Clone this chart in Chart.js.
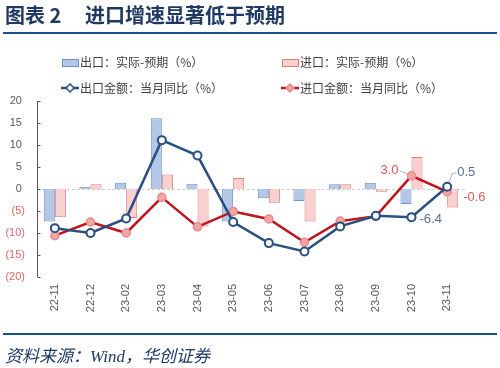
<!DOCTYPE html>
<html>
<head>
<meta charset="utf-8">
<script src="https://cdn.jsdelivr.net/npm/chart.js@4.4.0/dist/chart.umd.min.js"></script>
<style>
  html, body { margin: 0; padding: 0; background: #fff; }
  #page { position: relative; width: 500px; height: 368px; overflow: hidden; font-family: "Noto Sans CJK SC", sans-serif; }
  .title { position: absolute; top: 3px; font-size: 20px; font-weight: bold; color: #1f3864; white-space: pre; line-height: 24px; }
  .rule { position: absolute; left: 3px; width: 494px; height: 2px; background: #1f4e8c; }
  .leg { position: absolute; font-size: 12px; color: #404040; line-height: 14px; white-space: pre; }
  .box { position: absolute; width: 15px; height: 6px; }
  #source { position: absolute; left: 5px; top: 342px; font-size: 17px; font-style: italic; color: #1f3864; font-family: "Liberation Serif", "Noto Sans CJK SC", serif; }
  canvas { position: absolute; left: 0; top: 0; }
</style>
</head>
<body>
<div id="page">
  <canvas id="myChart" width="500" height="368"></canvas>
  <div class="title" style="left:5px">图表 2</div>
  <div class="title" style="left:85px">进口增速显著低于预期</div>
  <div class="rule" style="top:32px"></div>

  <div class="box" style="left:62px;top:59px;background:#b4c7e7;border:1px solid #6f8fc4"></div>
  <div class="leg" style="left:80px;top:55px">出口：实际-预期（%）</div>
  <div class="box" style="left:282px;top:59px;background:#f8d0d0;border:1px solid #e07b7b"></div>
  <div class="leg" style="left:300px;top:55px">进口：实际-预期（%）</div>

  <svg style="position:absolute;left:61px;top:82px" width="18" height="12">
    <line x1="0" y1="6" x2="18" y2="6" stroke="#2b4f81" stroke-width="2.5"/>
    <polygon points="9,2 13,6 9,10 5,6" fill="#fff" stroke="#2b4f81" stroke-width="1.5"/>
  </svg>
  <div class="leg" style="left:80px;top:81px">出口金额：当月同比（%）</div>
  <svg style="position:absolute;left:281px;top:82px" width="18" height="12">
    <line x1="0" y1="6" x2="18" y2="6" stroke="#c0141c" stroke-width="2.5"/>
    <polygon points="9,2 13,6 9,10 5,6" fill="#f4a6a6" stroke="#e8898b" stroke-width="1.5"/>
  </svg>
  <div class="leg" style="left:300px;top:81px">进口金额：当月同比（%）</div>

  <div class="rule" style="top:333px"></div>
  <div id="source">资料来源：Wind，华创证券</div>
</div>

<script>
'use strict';

var categories = ['22-11','22-12','23-02','23-03','23-04','23-05','23-06','23-07','23-08','23-09','23-10','23-11'];
var exportDiff = [-7.4, 0.5, 1.4, 16.1, 1.2, -7.4, -2.1, -2.7, 1.1, 1.4, -3.4, 0];
var importDiff = [-6.4, 1.1, -6.6, 3.3, -8.5, 2.5, -3.1, -7.4, 1.1, -0.6, 7.3, -4.2];
var exportYoy = [-8.9, -10.0, -6.7, 11.1, 7.6, -7.5, -12.3, -14.2, -8.5, -6.1, -6.4, 0.5];
var importYoy = [-10.6, -7.5, -10.0, -1.9, -8.6, -5.1, -6.8, -12.1, -7.3, -6.2, 3.0, -0.6];
var yTicks = [-20, -15, -10, -5, 0, 5, 10, 15, 20];

// y axis line with short inward ticks + dashed zero line
var axisPlugin = {
  id: 'axisPlugin',
  beforeDatasetsDraw: function(chart){
    var ctx = chart.ctx;
    var area = chart.chartArea;
    var y = chart.scales.y;
    ctx.save();
    ctx.strokeStyle = '#d0d0d0';
    ctx.lineWidth = 1;
    ctx.setLineDash([3, 2]);
    var zy = Math.round(y.getPixelForValue(0)) + 0.5;
    ctx.beginPath();
    ctx.moveTo(area.left, zy);
    ctx.lineTo(area.right, zy);
    ctx.stroke();
    ctx.setLineDash([]);
    ctx.strokeStyle = '#595959';
    var x = Math.round(area.left) + 0.5;
    ctx.beginPath();
    ctx.moveTo(x, area.top);
    ctx.lineTo(x, area.bottom);
    for (var i = 0; i < yTicks.length; i++){
      var ty = Math.round(y.getPixelForValue(yTicks[i])) + 0.5;
      ctx.moveTo(x, ty);
      ctx.lineTo(x + 3, ty);
    }
    ctx.stroke();
    ctx.restore();
  }
};

// the four value labels at the end of the lines
var labelPlugin = {
  id: 'labelPlugin',
  afterDatasetsDraw: function(chart){
    var ctx = chart.ctx;
    var ex = chart.getDatasetMeta(2).data;
    var im = chart.getDatasetMeta(3).data;
    var n = categories.length;
    ctx.save();
    ctx.font = '13px "Liberation Sans", sans-serif';
    ctx.textBaseline = 'middle';

    // import 23-10
    var p = im[n - 2];
    ctx.strokeStyle = '#b0b0b0';
    ctx.lineWidth = 1;
    ctx.beginPath();
    ctx.moveTo(p.x - 12, p.y - 5);
    ctx.lineTo(p.x - 4, p.y - 2);
    ctx.stroke();
    ctx.fillStyle = '#e05a5a';
    ctx.textAlign = 'right';
    ctx.fillText(importYoy[n - 2].toFixed(1), p.x - 13, p.y - 5);

    // export 23-11
    p = ex[n - 1];
    ctx.beginPath();
    ctx.moveTo(p.x + 2, p.y - 5);
    ctx.lineTo(p.x + 5, p.y - 13);
    ctx.lineTo(p.x + 9, p.y - 14);
    ctx.stroke();
    ctx.fillStyle = '#5a7099';
    ctx.textAlign = 'left';
    ctx.fillText(exportYoy[n - 1].toFixed(1), p.x + 10, p.y - 14);

    // export 23-10
    p = ex[n - 2];
    ctx.fillText(exportYoy[n - 2].toFixed(1), p.x + 8, p.y + 2);

    // import 23-11
    p = im[n - 1];
    ctx.fillStyle = '#e05a5a';
    ctx.fillText(importYoy[n - 1].toFixed(1), p.x + 16, p.y + 6);
    ctx.restore();
  }
};

var ctx = document.getElementById('myChart').getContext('2d');
var chart = new Chart(ctx, {
  type: 'bar',
  data: {
    labels: categories,
    datasets: [{
      label: '出口：实际-预期（%）',
      data: exportDiff,
      backgroundColor: '#b4c7e7',
      borderColor: '#6f8fc4',
      borderWidth: 1,
      order: 3
    },
    {
      label: '进口：实际-预期（%）',
      data: importDiff,
      backgroundColor: '#f8d0d0',
      borderColor: '#e07b7b',
      borderWidth: 1,
      order: 3
    },
    {
      type: 'line',
      label: '出口金额：当月同比（%）',
      data: exportYoy,
      borderColor: '#2b4f81',
      borderWidth: 2.5,
      pointRadius: 4,
      pointBorderWidth: 2,
      pointBackgroundColor: '#ffffff',
      pointBorderColor: '#2b4f81',
      order: 1
    },
    {
      type: 'line',
      label: '进口金额：当月同比（%）',
      data: importYoy,
      borderColor: '#c0141c',
      borderWidth: 2.5,
      pointRadius: 4,
      pointBorderWidth: 1.5,
      pointBackgroundColor: '#f4a6a6',
      pointBorderColor: '#e8898b',
      order: 2
    }]
  },
  options: {
    responsive: false,
    animation: false,
    categoryPercentage: 0.62,
    barPercentage: 1.0,
    layout: { padding: { top: 101, left: 0, right: 35, bottom: 51 } },
    plugins: { legend: { display: false }, tooltip: { enabled: false } },
    scales: {
      x: {
        grid: { display: false, drawTicks: false },
        border: { display: false },
        afterFit: function(scale){ scale.height = 40; },
        ticks: {
          minRotation: 90,
          maxRotation: 90,
          padding: 7,
          color: '#595959',
          font: { family: '"Liberation Sans", sans-serif', size: 11 }
        }
      },
      y: {
        min: -20,
        max: 20,
        grid: { display: false, drawTicks: false },
        border: { display: false },
        afterFit: function(scale){ scale.width = 37; },
        ticks: {
          stepSize: 5,
          padding: 12,
          font: { family: '"Liberation Sans", sans-serif', size: 11 },
          color: function(c){ return c.tick.value < 0 ? '#e06666' : '#595959'; },
          callback: function(v){ return v < 0 ? '(' + (-v) + ')' : v + ' '; }
        }
      }
    }
  },
  plugins: [axisPlugin, labelPlugin]
});
</script>
</body>
</html>
